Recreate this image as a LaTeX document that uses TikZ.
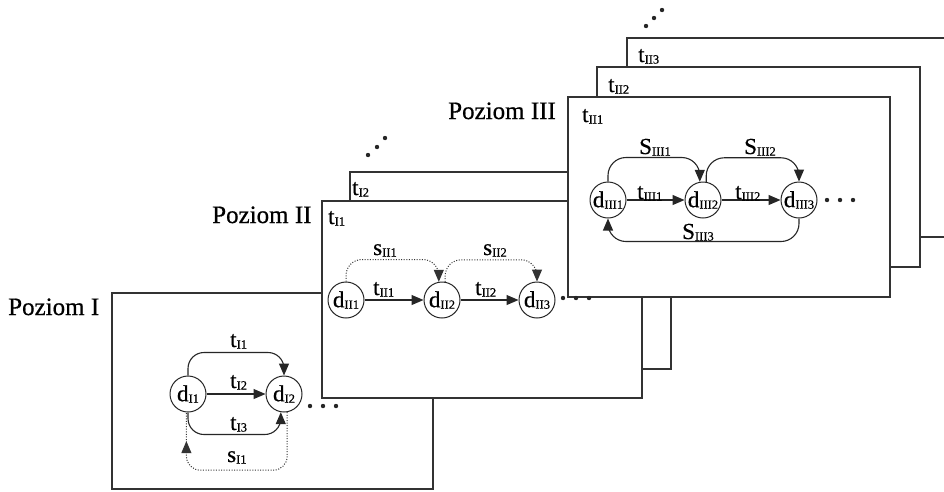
\documentclass[tikz,border=0pt]{standalone}
\usepackage{fontspec}
\setmainfont{Liberation Serif}[FakeBold=0.6]
\usetikzlibrary{arrows.meta,decorations.markings}
\newcommand\lbl[2]{#1\raisebox{-1.5pt}{\fontsize{12.5}{12.5}\selectfont #2}}
\begin{document}
\begin{tikzpicture}[x=1pt,y=-1pt,
  frame/.style={draw=black!80, line width=1.1pt, fill=white},
  state/.style={circle, draw=black!85, line width=1pt, minimum size=36pt, inner sep=0pt, font=\fontsize{23}{23}\selectfont},
  elab/.style={anchor=base west, inner sep=0pt, font=\fontsize{23}{23}\selectfont},
  lvl/.style={anchor=base west, inner sep=0pt, font=\fontsize{25}{25}\selectfont},
  arr/.style={line width=1.1pt, draw=black!85, -{Triangle[length=12pt,width=10pt]}},
  dotarc/.style={line width=1pt, draw=black!80, dash pattern=on 1pt off 1.6pt, -{Triangle[length=12pt,width=10pt]}},
  dotc/.style={circle, fill=black!85, inner sep=0pt, minimum size=4.4pt}]
\useasboundingbox (0,0) rectangle (944,491);
\clip (0,0) rectangle (944,491);
% ---------- frames ----------
\draw[frame] (112,293) rectangle (433,489);
\draw[frame] (350,172) rectangle (671,369);
\draw[frame] (322,201) rectangle (642,398);
\draw[frame] (627,38) rectangle (960,237);
\draw[frame] (597,67) rectangle (920,267);
\draw[frame] (568,97) rectangle (890,297);
% ---------- level labels ----------
\node[lvl] (p1) at (8,315) {Poziom I};
\node[lvl] (p2) at (212,223) {Poziom II};
\node[lvl] (p3) at (448,119) {Poziom III};
% ---------- Level I ----------
\node[state] (dI1) at (188,394) {\lbl{d}{I1}};
\node[state] (dI2) at (284,394) {\lbl{d}{I2}};
\draw[arr, rounded corners=16pt] (dI1.north) -- ++(0,-23) -| (dI2.north);
\draw[arr] (dI1) -- (dI2);
\draw[arr, rounded corners=16pt] (dI1.south) -- ++(0,22) -| (dI2.-100);
\draw[line width=1pt, draw=black!80, dash pattern=on 1pt off 1.6pt, rounded corners=14pt,
  postaction={decorate}, decoration={markings, mark=at position 0.86 with {\arrow{Triangle[length=12pt,width=10pt]}}}]
  (dI2.-80) -- ++(0,58) -| (dI1.-95);
\node[elab] (ltI1) at (230,347) {\lbl{t}{I1}};
\node[elab] (ltI2) at (230,388) {\lbl{t}{I2}};
\node[elab] (ltI3) at (230,430) {\lbl{t}{I3}};
\node[elab] (lsI1) at (227,462) {\lbl{s}{I1}};
\node[dotc] (e1a) at (310,406) {};
\node[dotc] (e1b) at (323,406) {};
\node[dotc] (e1c) at (336,406) {};
% ---------- Level II ----------
\node[elab] (fI1) at (328,224) {\lbl{t}{I1}};
\node[elab] (fI2) at (352,195) {\lbl{t}{I2}};
\node[dotc] (v2a) at (368,155) {};
\node[dotc] (v2b) at (377,147) {};
\node[dotc] (v2c) at (385,138) {};
\node[state] (dII1) at (346,300) {\lbl{d}{II1}};
\node[state] (dII2) at (442,300) {\lbl{d}{II2}};
\node[state] (dII3) at (537,300) {\lbl{d}{II3}};
\draw[arr] (dII1) -- (dII2);
\draw[arr] (dII2) -- (dII3);
\draw[dotarc, rounded corners=16pt] (dII1.north) -- ++(0,-22) -| (dII2.100);
\draw[dotarc, rounded corners=16pt] (dII2.80) -- ++(0,-22) -| (dII3.north);
\node[elab] (ltII1) at (373,295) {\lbl{t}{II1}};
\node[elab] (ltII2) at (475,295) {\lbl{t}{II2}};
\node[elab] (lsII1) at (373,255) {\lbl{s}{II1}};
\node[elab] (lsII2) at (483,255) {\lbl{s}{II2}};
\node[dotc] (e2a) at (563,298) {};
\node[dotc] (e2b) at (576,298) {};
\node[dotc] (e2c) at (589,298) {};
% ---------- Level III ----------
\node[elab] (fII1) at (582,122) {\lbl{t}{II1}};
\node[elab] (fII2) at (608,92) {\lbl{t}{II2}};
\node[elab] (fII3) at (638,62) {\lbl{t}{II3}};
\node[dotc] (v3a) at (646,26) {};
\node[dotc] (v3b) at (654,18) {};
\node[dotc] (v3c) at (662,10) {};
\node[state] (dIII1) at (608,200) {\lbl{d}{III1}};
\node[state] (dIII2) at (703,200) {\lbl{d}{III2}};
\node[state] (dIII3) at (799,200) {\lbl{d}{III3}};
\draw[arr] (dIII1) -- (dIII2);
\draw[arr] (dIII2) -- (dIII3);
\draw[arr, rounded corners=18pt] (dIII1.north) -- ++(0,-24) -| (dIII2.100);
\draw[arr, rounded corners=18pt] (dIII2.80) -- ++(0,-24) -| (dIII3.north);
\draw[arr, rounded corners=18pt] (dIII3.south) -- ++(0,23) -| (dIII1.south);
\node[elab] (lSIII1) at (639,154) {\lbl{S}{III1}};
\node[elab] (lSIII2) at (744,154) {\lbl{S}{III2}};
\node[elab] (ltIII1) at (637,199) {\lbl{t}{III1}};
\node[elab] (ltIII2) at (735,199) {\lbl{t}{III2}};
\node[elab] (lSIII3) at (682,239) {\lbl{S}{III3}};
\node[dotc] (e3a) at (827,200) {};
\node[dotc] (e3b) at (840,200) {};
\node[dotc] (e3c) at (853,200) {};
\end{tikzpicture}
\end{document}
